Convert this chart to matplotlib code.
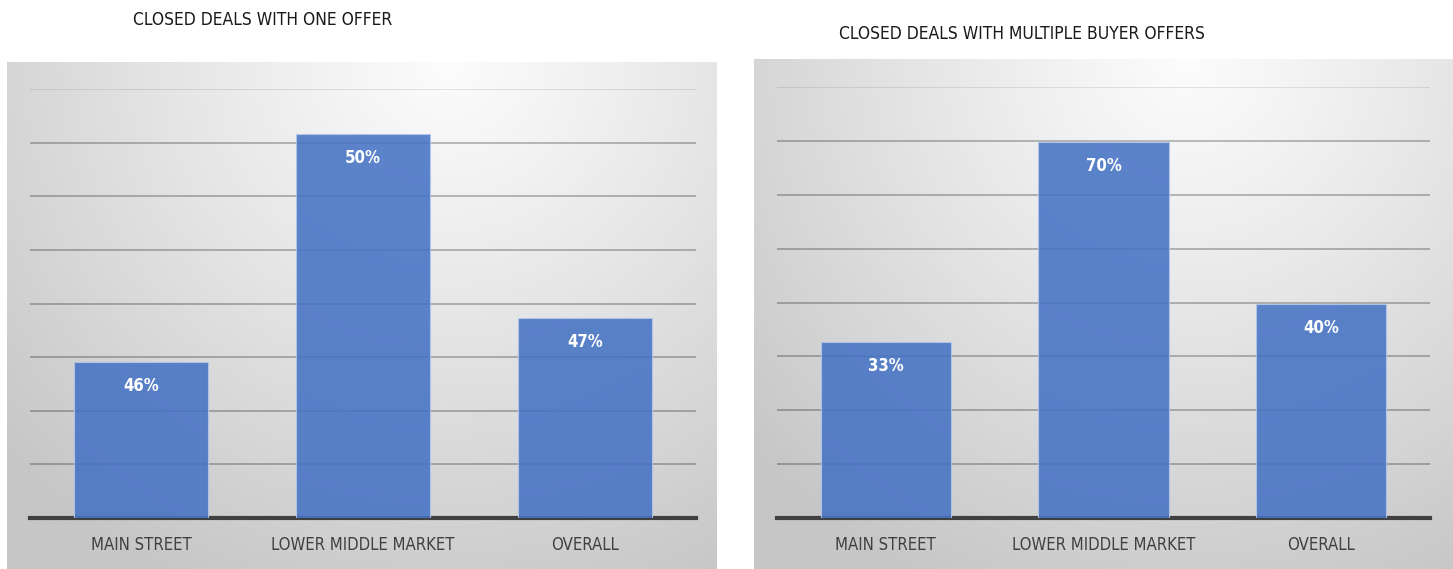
import numpy as np
import matplotlib
matplotlib.use("Agg")
import matplotlib.pyplot as plt

# dados
categorias = ["MAIN STREET", "LOWER MIDDLE MARKET", "OVERALL"]

titulo_um = "CLOSED DEALS WITH ONE OFFER"
alturas_um = [29.1, 71.6, 37.3]
rotulos_um = ["46%", "50%", "47%"]

titulo_multi = "CLOSED DEALS WITH MULTIPLE BUYER OFFERS"
alturas_multi = [32.7, 69.8, 39.7]
rotulos_multi = ["33%", "70%", "40%"]

W, H = 1453, 569
FONTE = "DejaVu Sans"


def fundo_gradiente(fig, rect):
    """Painel cinza com gradiente radial claro no topo."""
    bg = fig.add_axes(rect, zorder=0)
    xs = np.linspace(0, 1, 300)
    ys = np.linspace(0, 1, 200)
    X, Y = np.meshgrid(xs, ys)
    r = np.sqrt(((X - 0.62) / 0.85) ** 2 + ((Y - 1.0) / 1.15) ** 2)
    v = 252 - (252 - 198) * np.clip(r, 0, 1) ** 1.1
    img = np.dstack([v, v, v]) / 255.0
    bg.imshow(img, origin="lower", aspect="auto", extent=(0, 1, 0, 1))
    bg.set_xlim(0, 1)
    bg.set_ylim(0, 1)
    bg.axis("off")
    return bg


def grafico(fig, rect, alturas, rotulos):
    ax = fig.add_axes(rect, zorder=2)
    ax.patch.set_alpha(0)
    x = np.arange(len(categorias))
    ax.bar(x, alturas, width=0.6, color="#4472C4", alpha=0.87,
           edgecolor="#b4c6ea", linewidth=0.8, zorder=3)
    for xi, h, lab in zip(x, alturas, rotulos):
        ax.annotate(lab, (xi, h), xytext=(0, -17.5), textcoords="offset points",
                    ha="center", va="center", color="white", fontsize=12,
                    fontweight="bold", family=FONTE, fontstretch="condensed",
                    zorder=4)
    ax.set_xlim(-0.5, len(categorias) - 0.5)
    ax.set_ylim(0, 80)
    ax.set_yticks(np.arange(0, 81, 10))
    ax.yaxis.grid(True, color="black", alpha=0.27, linewidth=1.3)
    # linha superior bem mais clara, como no original
    ax.get_ygridlines()[-1].set_alpha(0.1)
    ax.set_axisbelow(True)
    ax.tick_params(axis="y", left=False, labelleft=False)
    ax.tick_params(axis="x", length=0, pad=13)
    ax.set_xticks(x)
    ax.set_xticklabels(categorias, fontsize=12, color="#404040", family=FONTE,
                       fontstretch="condensed")
    for s in ("top", "left", "right"):
        ax.spines[s].set_visible(False)
    ax.spines["bottom"].set_color("#404040")
    ax.spines["bottom"].set_linewidth(3)
    return ax


fig = plt.figure(figsize=(W / 100, H / 100), dpi=100)
fig.patch.set_facecolor("white")

# painel esquerdo
fundo_gradiente(fig, [7 / W, 0, 710 / W, 507 / H])
grafico(fig, [30 / W, 51 / H, 666 / W, 429 / H], alturas_um, rotulos_um)
fig.text(263 / W, 1 - 20 / H, titulo_um, ha="center", va="center",
         fontsize=12.5, color="#1a1a1a", family=FONTE, fontstretch="condensed")

# painel direito
fundo_gradiente(fig, [754 / W, 0, 699 / W, 510 / H])
grafico(fig, [777 / W, 51 / H, 653 / W, 431 / H], alturas_multi, rotulos_multi)
fig.text(1022 / W, 1 - 34 / H, titulo_multi, ha="center", va="center",
         fontsize=12.5, color="#1a1a1a", family=FONTE, fontstretch="condensed")

fig.savefig("out.png", dpi=100)
